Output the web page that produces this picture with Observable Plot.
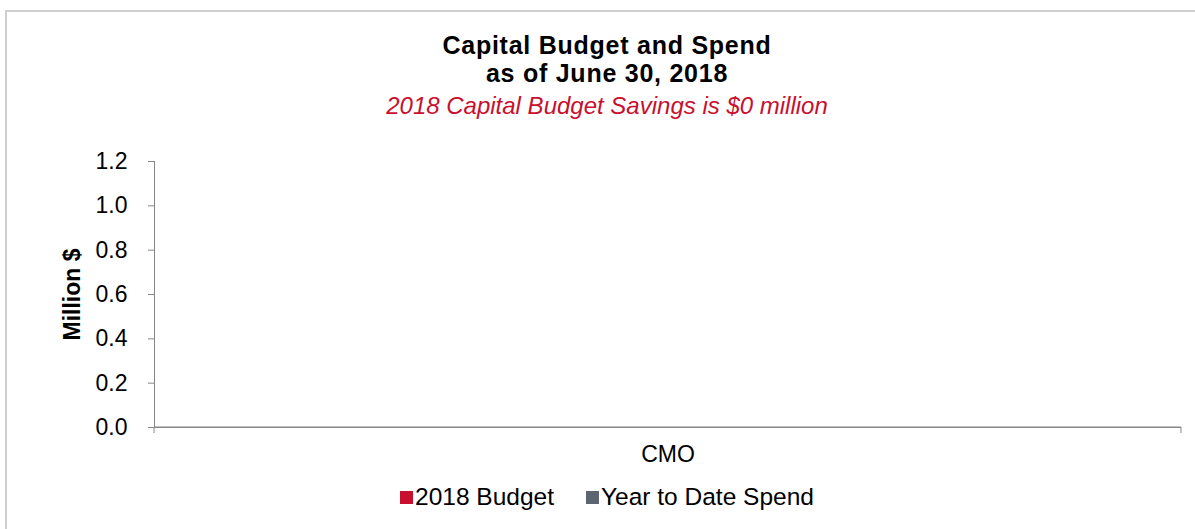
<!DOCTYPE html>
<html>
<head>
<meta charset="utf-8">
<script src="https://cdn.jsdelivr.net/npm/d3@7"></script>
<script src="https://cdn.jsdelivr.net/npm/@observablehq/plot@0.6"></script>
<style>
  body { margin: 0; background: #fff; font-family: "Liberation Sans", Arial, sans-serif; }
  #wrap { position: relative; width: 1195px; height: 529px; overflow: hidden; }
  #border { position: absolute; left: 5px; top: 10px; width: 1250px; height: 600px;
            border-top: 2px solid #cfcfcf; border-left: 2px solid #cfcfcf; }
  .hd { position: absolute; left: 0; width: 1214px; text-align: center; white-space: nowrap; color: #000; }
  #t1 { top: 31px; font-size: 25px; font-weight: bold; line-height: 28px; letter-spacing: 0.75px; }
  #t3 { top: 92px; font-size: 24px; font-style: italic; line-height: 28px; color: #C8102E; }
  #chart { position: absolute; left: 0; top: 140px; }
  #legend { position: absolute; left: 0; top: 483px; width: 1214px; display: flex; justify-content: center;
            align-items: center; font-size: 24.5px; line-height: 28px; color: #000; }
  .item { display: flex; align-items: center; margin: 0 16px; }
  .sw { width: 13px; height: 13px; margin-right: 2px; }
  #chart svg [aria-label="y-axis tick label"], #chart svg [aria-label="fx-axis tick label"] { fill: #000; }
</style>
</head>
<body>
<div id="wrap">
  <div id="border"></div>
  <div class="hd" id="t1"></div>
  <div class="hd" id="t3"></div>
  <div id="chart"></div>
  <div id="legend"></div>
</div>
<script>
const titleLines = ["Capital Budget and Spend", "as of June 30, 2018"];
const subtitle = "2018 Capital Budget Savings is $0 million";
const yLabel = "Million $";
const categories = ["CMO"];
const seriesNames = ["2018 Budget", "Year to Date Spend"];
const seriesColors = ["#C8102E", "#5B6670"];
const budget = [0];
const spend = [0];
const yTicks = [0, 0.2, 0.4, 0.6, 0.8, 1.0, 1.2];

const t1 = document.getElementById("t1");
titleLines.forEach((line, i) => {
  if (i) t1.appendChild(document.createElement("br"));
  t1.appendChild(document.createTextNode(line));
});
document.getElementById("t3").textContent = subtitle;

const data = categories.flatMap((c, i) => [
  {cat: c, series: seriesNames[0], value: budget[i]},
  {cat: c, series: seriesNames[1], value: spend[i]}
]);

const W = 1195, mL = 154, mR = 14;
const frameW = W - mL - mR;
const edgeTick = 6;

const chart = Plot.plot({
  width: W,
  height: 345,
  marginTop: 21,
  marginBottom: 58,
  marginLeft: mL,
  marginRight: mR,
  style: {fontFamily: '"Liberation Sans", Arial, sans-serif', fontSize: "23px", color: "#868686", background: "transparent", overflow: "visible"},
  fx: {domain: categories, padding: 0, tickSize: 0, tickPadding: 18, label: null},
  x: {domain: seriesNames, axis: null, paddingInner: 0.1, paddingOuter: 0.6},
  y: {domain: [0, 1.2], ticks: yTicks, tickFormat: d3.format(".1f"), tickSize: 6, tickPadding: 21, line: true, label: null},
  color: {domain: seriesNames, range: seriesColors},
  marks: [
    Plot.barY(data, {fx: "cat", x: "series", y: "value", fill: "series"}),
    // category axis line with the band-edge tick marks below it
    Plot.rect([0], {y1: 0, y2: 0, insetBottom: -edgeTick, fill: "none", stroke: "#868686",
      strokeDasharray: `${frameW + edgeTick} ${frameW}`, facet: "exclude", fx: null}),
    Plot.ruleY([0], {stroke: "#868686"}),
    Plot.text([yLabel], {frameAnchor: "left", textAnchor: "middle", dx: -82, rotate: -90, fontWeight: "bold", fontSize: 23, fill: "#000", facet: "exclude", fx: null})
  ]
});
document.getElementById("chart").appendChild(chart);

const legend = document.getElementById("legend");
seriesNames.forEach((name, i) => {
  const item = document.createElement("div");
  item.className = "item";
  const sw = document.createElement("span");
  sw.className = "sw";
  sw.style.background = seriesColors[i];
  const tx = document.createElement("span");
  tx.textContent = name;
  item.appendChild(sw);
  item.appendChild(tx);
  legend.appendChild(item);
});
</script>
</body>
</html>
